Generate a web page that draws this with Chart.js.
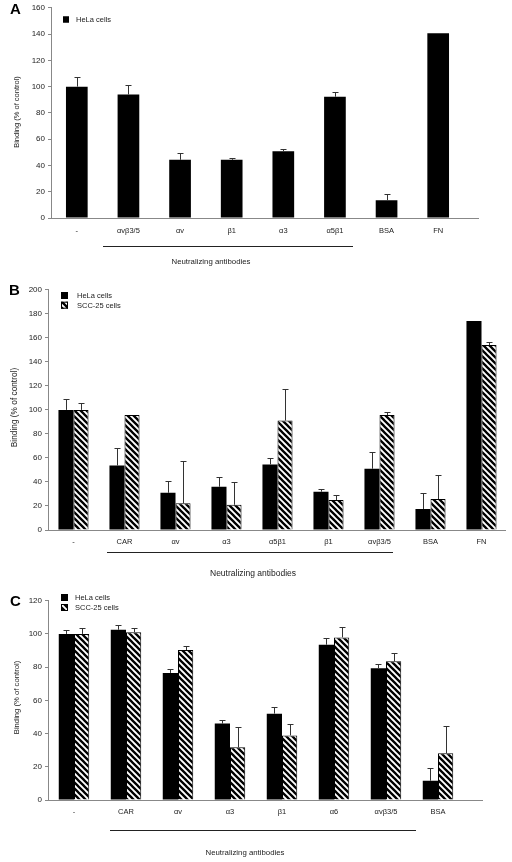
<!DOCTYPE html>
<html>
<head>
<meta charset="utf-8">
<script src="https://cdn.jsdelivr.net/npm/chart.js@4/dist/chart.umd.min.js"></script>
<style>
  html, body { margin: 0; padding: 0; background: #fff; }
  body { width: 512px; height: 862px; position: relative; overflow: hidden; }
  canvas { position: absolute; left: 0; }
</style>
</head>
<body>
<canvas id="panelA" width="512" height="282" style="top:0px"></canvas>
<canvas id="panelB" width="512" height="300" style="top:282px"></canvas>
<canvas id="panelC" width="512" height="280" style="top:582px"></canvas>
<script>
// Panel A - HeLa only
const labelsA = ['-', 'αvβ3/5', 'αv', 'β1', 'α3', 'α5β1', 'BSA', 'FN'];
const helaA = [100, 94, 44.3, 44.3, 50.8, 92.3, 13.6, 140.6];
const helaErrA = [7, 7.3, 5.5, 1.5, 1.8, 3.3, 5, 0];
const ticksA = [0, 20, 40, 60, 80, 100, 120, 140, 160];

// Panel B
const labelsB = ['-', 'CAR', 'αv', 'α3', 'α5β1', 'β1', 'αvβ3/5', 'BSA', 'FN'];
const helaB = [100, 53.7, 31, 36, 54.6, 31.9, 51, 17.5, 174];
const helaErrB = [9, 14.7, 9.4, 7.8, 5, 2.4, 13.8, 13.5, 0];
const sccB = [100, 95.8, 22.2, 21, 91.1, 24.9, 95.8, 25.8, 154];
const sccErrB = [6, 0, 35, 18.6, 26, 3.9, 2.5, 19.6, 2.2];
const ticksB = [0, 20, 40, 60, 80, 100, 120, 140, 160, 180, 200];

// Panel C
const labelsC = ['-', 'CAR', 'αv', 'α3', 'β1', 'α6', 'αvβ3/5', 'BSA'];
const helaC = [100, 102.5, 76.5, 46, 52, 93.5, 79.3, 11.6];
const helaErrC = [2.2, 2.7, 2.2, 2, 3.8, 3.8, 2.4, 7.4];
const sccC = [100, 101, 90.3, 31.7, 38.9, 97.9, 83.5, 28.1];
const sccErrC = [3.3, 2.3, 2.2, 12, 7.1, 6.3, 4.8, 16.3];
const ticksC = [0, 20, 40, 60, 80, 100, 120];

const FONT = '"Liberation Sans", Arial, sans-serif';

function makeHatch(ctx) {
  const c = document.createElement('canvas');
  c.width = 6; c.height = 6;
  const g = c.getContext('2d');
  g.fillStyle = '#fff';
  g.fillRect(0, 0, 6, 6);
  g.strokeStyle = '#000';
  g.lineWidth = 2.3;
  g.beginPath();
  [-6, 0, 6].forEach(o => { g.moveTo(o - 1, -1); g.lineTo(o + 7, 7); });
  g.stroke();
  return ctx.createPattern(c, 'repeat');
}

// upward-only error bars, drawn through the y scale
const errorBars = {
  id: 'errorBars',
  afterDatasetsDraw(chart) {
    const ctx = chart.ctx;
    const y = chart.scales.y;
    chart.data.datasets.forEach((ds, i) => {
      const meta = chart.getDatasetMeta(i);
      meta.data.forEach((bar, j) => {
        const e = ds.errors[j];
        if (!e) return;
        const x = Math.round(bar.x) + 0.5;
        const y0 = y.getPixelForValue(ds.data[j]);
        const y1 = Math.round(y.getPixelForValue(ds.data[j] + e)) + 0.5;
        ctx.save();
        ctx.strokeStyle = '#333';
        ctx.lineWidth = 1;
        ctx.beginPath();
        ctx.moveTo(x, y0);
        ctx.lineTo(x, y1);
        ctx.moveTo(x - 3, y1);
        ctx.lineTo(x + 3, y1);
        ctx.stroke();
        ctx.restore();
      });
    });
  }
};

// panel letter, legend, axis title, x axis line and the "Neutralizing antibodies" bracket
const decor = {
  id: 'decor',
  afterDraw(chart, args, o) {
    const ctx = chart.ctx;
    const area = chart.chartArea;
    ctx.save();
    // x axis line
    ctx.strokeStyle = '#888';
    ctx.lineWidth = 1;
    ctx.beginPath();
    ctx.moveTo(area.left, Math.round(area.bottom) + 0.5);
    ctx.lineTo(o.axisEnd, Math.round(area.bottom) + 0.5);
    ctx.stroke();

    // letter
    ctx.fillStyle = '#000';
    ctx.font = 'bold 15px ' + FONT;
    ctx.textAlign = 'left';
    ctx.textBaseline = 'alphabetic';
    ctx.fillText(o.letter, o.letterX, o.letterY);

    // legend
    ctx.font = o.legendFont + 'px ' + FONT;
    ctx.textBaseline = 'middle';
    chart.data.datasets.forEach((ds, i) => {
      const ly = o.legendY[i];
      ctx.fillStyle = ds.backgroundColor;
      ctx.fillRect(o.legendX, ly, o.swatch, o.swatch);
      ctx.strokeStyle = '#000';
      ctx.lineWidth = 1;
      ctx.strokeRect(o.legendX + 0.5, ly + 0.5, o.swatch - 1, o.swatch - 1);
      ctx.fillStyle = '#222';
      ctx.fillText(ds.label, o.legendTextX, ly + o.swatch / 2 + 0.5);
    });

    // y title
    ctx.save();
    ctx.translate(o.yTitleX, o.yTitleY);
    ctx.rotate(-Math.PI / 2);
    ctx.textAlign = 'center';
    ctx.font = o.yTitleFont + 'px ' + FONT;
    ctx.fillStyle = '#222';
    ctx.fillText('Binding (% of control)', 0, 0);
    ctx.restore();

    // bracket line + text
    ctx.strokeStyle = '#222';
    ctx.lineWidth = 1;
    ctx.beginPath();
    ctx.moveTo(o.lineX1, o.lineY + 0.5);
    ctx.lineTo(o.lineX2, o.lineY + 0.5);
    ctx.stroke();
    ctx.textAlign = 'center';
    ctx.font = o.noteFont + 'px ' + FONT;
    ctx.fillStyle = '#222';
    ctx.fillText('Neutralizing antibodies', o.noteX, o.noteY);
    ctx.restore();
  }
};

function makePanel(id, labels, datasets, ticks, g) {
  const canvas = document.getElementById(id);
  return new Chart(canvas, {
    type: 'bar',
    data: { labels: labels, datasets: datasets },
    plugins: [errorBars, decor],
    options: {
      responsive: false,
      animation: false,
      layout: { padding: { left: 0, right: 512 - g.right, top: g.top, bottom: 0 } },
      datasets: { bar: { barPercentage: 1, categoryPercentage: g.catPct } },
      plugins: {
        legend: { display: false },
        tooltip: { enabled: false },
        decor: g.decor
      },
      scales: {
        x: {
          grid: { display: false, drawTicks: false },
          border: { display: false },
          ticks: {
            padding: g.tickPad,
            color: '#222',
            maxRotation: 0,
            autoSkip: false,
            font: { family: FONT, size: 7.5 }
          },
          afterFit: s => { s.height = g.H - g.bottom; }
        },
        y: {
          min: 0,
          max: ticks[ticks.length - 1],
          afterBuildTicks: s => { s.ticks = ticks.map(v => ({ value: v })); },
          grid: { drawOnChartArea: false, drawTicks: true, tickLength: 3, color: '#888' },
          border: { display: true, color: '#888' },
          ticks: { padding: 3, color: '#222', font: { family: FONT, size: 8 } },
          afterFit: s => { s.width = g.left; }
        }
      }
    }
  });
}

const ctxB = document.getElementById('panelB').getContext('2d');
const ctxC = document.getElementById('panelC').getContext('2d');

makePanel('panelA', labelsA, [
  { label: 'HeLa cells', data: helaA, errors: helaErrA, backgroundColor: '#000', borderWidth: 0 }
], ticksA, {
  H: 282, left: 51, right: 464, top: 6, bottom: 218, catPct: 0.42, tickPad: 8.5,
  decor: {
    axisEnd: 479, letter: 'A', letterX: 10, letterY: 13.5,
    legendX: 63, legendY: [16.5], swatch: 6, legendTextX: 76, legendFont: 7.5,
    yTitleX: 16.5, yTitleY: 112, yTitleFont: 7.5,
    lineX1: 103, lineX2: 353, lineY: 246, noteX: 211, noteY: 262, noteFont: 7.8
  }
});

makePanel('panelB', labelsB, [
  { label: 'HeLa cells', data: helaB, errors: helaErrB, backgroundColor: '#000', borderWidth: 0 },
  { label: 'SCC-25 cells', data: sccB, errors: sccErrB, backgroundColor: makeHatch(ctxB), borderColor: '#000', borderWidth: 1 }
], ticksB, {
  H: 300, left: 48, right: 507, top: 7.3, bottom: 248, catPct: 0.59, tickPad: 7.5,
  decor: {
    axisEnd: 506, letter: 'B', letterX: 9, letterY: 13,
    legendX: 61, legendY: [10, 19.7], swatch: 7, legendTextX: 77, legendFont: 7.5,
    yTitleX: 15, yTitleY: 125.5, yTitleFont: 8.3,
    lineX1: 107, lineX2: 393, lineY: 270, noteX: 253, noteY: 291.3, noteFont: 8.5
  }
});

makePanel('panelC', labelsC, [
  { label: 'HeLa cells', data: helaC, errors: helaErrC, backgroundColor: '#000', borderWidth: 0 },
  { label: 'SCC-25 cells', data: sccC, errors: sccErrC, backgroundColor: makeHatch(ctxC), borderColor: '#000', borderWidth: 1 }
], ticksC, {
  H: 280, left: 48, right: 464, top: 18.7, bottom: 218, catPct: 0.586, tickPad: 7.5,
  decor: {
    axisEnd: 483, letter: 'C', letterX: 10, letterY: 24,
    legendX: 61, legendY: [12, 22], swatch: 7, legendTextX: 75, legendFont: 7.5,
    yTitleX: 16.5, yTitleY: 115.5, yTitleFont: 7.7,
    lineX1: 110, lineX2: 416, lineY: 248, noteX: 245, noteY: 271, noteFont: 7.8
  }
});
</script>
</body>
</html>
